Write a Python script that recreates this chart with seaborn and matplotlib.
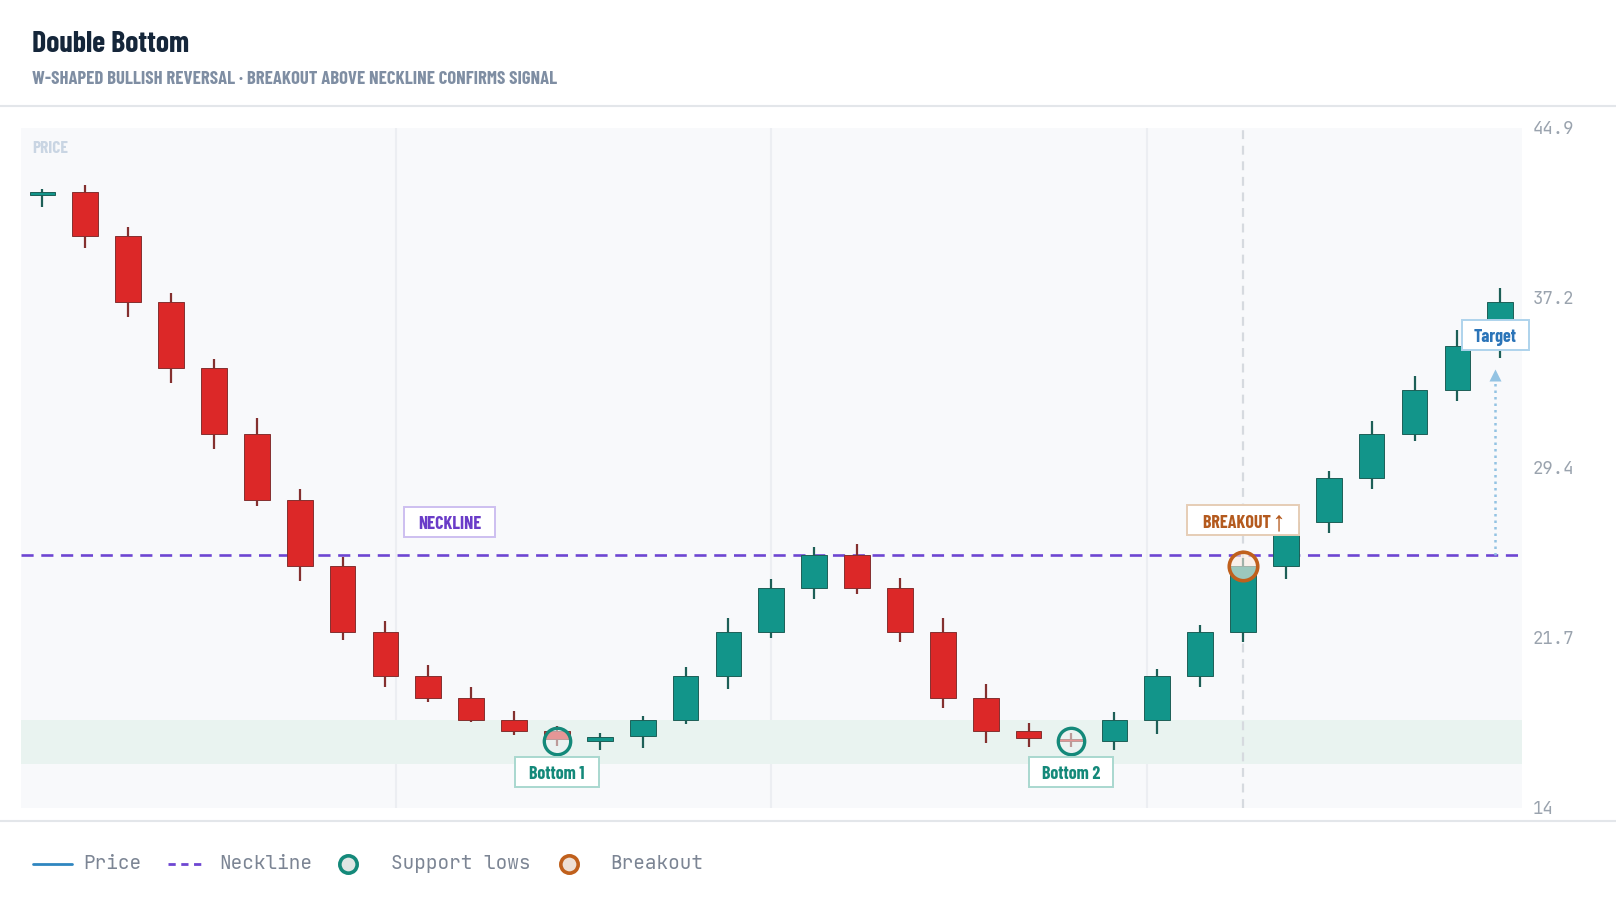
import numpy as np
import pandas as pd
import matplotlib.pyplot as plt
from matplotlib.lines import Line2D
from matplotlib.patches import Rectangle
import seaborn as sns

# candle data
opens = [41.85, 42.0, 40.0, 37.0, 34.0, 31.0, 28.0, 25.0, 22.0, 20.0, 19.0, 18.0,
         17.5, 17.05, 17.25, 18.0, 20.0, 22.0, 24.0, 25.5, 24.0, 22.0, 19.0, 17.5,
         17.12, 17.05, 18.0, 20.0, 22.0, 25.0, 27.0, 29.0, 31.0, 33.0, 35.0]
highs = [42.1, 42.3, 40.4, 37.4, 34.4, 31.7, 28.5, 25.4, 22.5, 20.5, 19.5, 18.4,
         17.7, 17.4, 18.15, 20.4, 22.6, 24.4, 25.85, 26.0, 24.45, 22.6, 19.6, 17.85,
         17.4, 18.35, 20.3, 22.3, 25.35, 27.3, 29.3, 31.55, 33.6, 35.7, 37.6]
lows = [41.3, 39.45, 36.3, 33.3, 30.3, 27.7, 24.3, 21.6, 19.5, 18.8, 17.9, 17.3,
        16.8, 16.6, 16.7, 17.8, 19.4, 21.7, 23.5, 23.7, 21.55, 18.55, 16.95, 16.75,
        16.75, 16.6, 17.35, 19.5, 21.55, 24.4, 26.5, 28.5, 30.65, 32.5, 34.45]
closes = [42.0, 40.0, 37.0, 34.0, 31.0, 28.0, 25.0, 22.0, 20.0, 19.0, 18.0, 17.5,
          17.1, 17.2, 18.0, 20.0, 22.0, 24.0, 25.5, 24.0, 22.0, 19.0, 17.5, 17.15,
          17.02, 18.0, 20.0, 22.0, 25.0, 27.0, 29.0, 31.0, 33.0, 35.0, 37.0]

neckline = 25.5
support_zone = [16.0, 18.0]
support_idx = [12, 24]
support_vals = [17.05, 17.05]
support_labels = ["Bottom 1", "Bottom 2"]
breakout_idx = 28
breakout_val = 25.0
target_val = 34.0

y_min, y_max = 14.0, 44.9
tick_vals = [14.0, 21.725, 29.45, 37.175, 44.9]
tick_labels = ["14", "21.7", "29.4", "37.2", "44.9"]

legend_labels = ["Price", "Neckline", "Support lows", "Breakout"]

df = pd.DataFrame({"open": opens, "high": highs, "low": lows, "close": closes})
df["i"] = np.arange(len(df))
df["up"] = df["close"] >= df["open"]

GREEN, GREEN_D = "#12958a", "#1d5f57"
RED, RED_D = "#dc2828", "#84302f"
PURPLE = "#6e46d2"
TEAL = "#14897a"
ORANGE = "#c0601c"
BLUE = "#2b74b8"

sns.set_theme(style="white")
cond = ["Barlow Condensed", "Roboto Condensed", "Archivo Narrow", "Asap Condensed", "DejaVu Sans"]
mono = ["JetBrains Mono", "DejaVu Sans Mono", "DejaVu Sans"]
plt.rcParams["font.family"] = ["DejaVu Sans"]

W, H = 1616, 908
fig = plt.figure(figsize=(W / 100, H / 100), dpi=100)
fig.patch.set_facecolor("white")


def fx(px):
    return px / W


def fy(py):
    return 1 - py / H


ax = fig.add_axes([fx(21), fy(807.7), fx(1521.7) - fx(21), fy(127.7) - fy(807.7)])
ax.set_facecolor("#f8f9fb")
for s in ax.spines.values():
    s.set_visible(False)
n = len(df)
ax.set_xlim(-0.5, n - 0.5)
ax.set_ylim(y_min, y_max)

# background grid + zones
for k in (1, 2, 3):
    ax.axvline(-0.5 + n * k / 4, color="#eceef2", lw=1.5, zorder=0.4)
ax.axhspan(support_zone[0], support_zone[1], color="#e9f3f0", zorder=0.5, lw=0)
ax.axvline(breakout_idx, color="#d6dadf", lw=1.6, dashes=(4, 3), zorder=0.6)
ax.axhline(neckline, color=PURPLE, lw=1.9, dashes=(4.6, 2.9), zorder=1.5)

# candles
wick_c = np.where(df["up"], GREEN_D, RED_D)
body_c = np.where(df["up"], GREEN, RED)
ax.vlines(df["i"], df["low"], df["high"], colors=wick_c, lw=1.6, zorder=2)
bottoms = np.minimum(df["open"], df["close"])
heights = (df["open"] - df["close"]).abs()
ax.bar(df["i"], heights, bottom=bottoms, width=0.6, color=body_c,
       edgecolor=wick_c, linewidth=0.7, zorder=3)

# markers
sns.scatterplot(x=support_idx, y=support_vals, s=361, color=(0.93, 0.95, 0.95, 0.55),
                edgecolor=TEAL, linewidth=2.4, zorder=5, ax=ax, legend=False)
sns.scatterplot(x=[breakout_idx], y=[breakout_val], s=420, color=(0.98, 0.92, 0.88, 0.6),
                edgecolor=ORANGE, linewidth=2.6, zorder=5, ax=ax, legend=False)

# target arrow
tx = n - 1 - 0.12
ax.plot([tx, tx], [neckline, target_val - 0.4], color="#93c3e3", lw=1.8,
        ls=(0, (1, 1.6)), zorder=4)
ax.plot([tx], [target_val - 0.35], marker="^", ms=9, color="#93c3e3", mec="none", zorder=4)

tags = []


def tag(x, y, txt, fg, edge, w):
    t = ax.text(x, y - 0.12, txt, ha="center", va="center", fontsize=13, fontweight="bold",
                color=fg, family=cond, zorder=7, clip_on=False)
    tags.append((t, edge, w))


tag(9.5, 27.0, "NECKLINE", "#6a3cc8", "#cdbff0", 91)
tag(breakout_idx, 27.06, "BREAKOUT \u2191", "#b45a1e", "#e6cdb6", 112)
for i, lab in zip(support_idx, support_labels):
    tag(i, 15.63, lab, TEAL, "#a9d8cf", 84)
tag(tx, 35.48, "Target", BLUE, "#aed3ec", 67)

ax.text(0.0077, 0.97, "PRICE", transform=ax.transAxes, fontsize=12.5, fontweight="bold",
        color="#c9d5e3", family=cond, va="center")

# y axis on the right
ax.set_xticks([])
ax.yaxis.tick_right()
ax.set_yticks(tick_vals, tick_labels)
ax.tick_params(axis="y", length=0, pad=8, labelsize=12.5, labelcolor="#9aa3ae")
for lbl in ax.get_yticklabels():
    lbl.set_family(mono)

# header
fig.text(fx(32), fy(44), "Double Bottom", fontsize=21.5, fontweight="bold",
         color="#15263a", family=cond, va="center")
fig.text(fx(32), fy(80), "W-SHAPED BULLISH REVERSAL \u00b7 BREAKOUT ABOVE NECKLINE CONFIRMS SIGNAL",
         fontsize=13.4, fontweight="bold", color="#7f8ea3", family=cond, va="center")
for yy in (106, 820.7):
    fig.add_artist(Line2D([0, 1], [fy(yy), fy(yy)], transform=fig.transFigure,
                          color="#e3e6ea", lw=1.5))

# legend
ly = fy(864)
fig.add_artist(Line2D([fx(33), fx(72)], [ly, ly], transform=fig.transFigure,
                      color="#2f86c0", lw=2))
fig.add_artist(Line2D([fx(168), fx(205)], [ly, ly], transform=fig.transFigure,
                      color=PURPLE, lw=2, dashes=(2.6, 2)))
fig.add_artist(Line2D([fx(348)], [ly], transform=fig.transFigure, marker="o", ms=12.5,
                      mfc="#dfe6e4", mec=TEAL, mew=2.6))
fig.add_artist(Line2D([fx(569)], [ly], transform=fig.transFigure, marker="o", ms=12.5,
                      mfc="#eee0d5", mec=ORANGE, mew=2.6))
for x0, txt in zip([83, 219, 391, 610], legend_labels):
    fig.text(fx(x0), ly, txt, fontsize=14, color="#7c8594", family=mono, va="center")

# boxes behind the tags, sized from the rendered text
fig.canvas.draw()
rend = fig.canvas.get_renderer()
for t, edge, w in tags:
    bb = t.get_window_extent(rend)
    cx, cy = (bb.x0 + bb.x1) / 2, (bb.y0 + bb.y1) / 2 + 2.6
    ax.add_patch(Rectangle((cx - w / 2, cy - 15), w, 30, transform=None, fc="white",
                           ec=edge, lw=1.4, zorder=6, clip_on=False))

fig.savefig("out.png", dpi=100, facecolor="white")
